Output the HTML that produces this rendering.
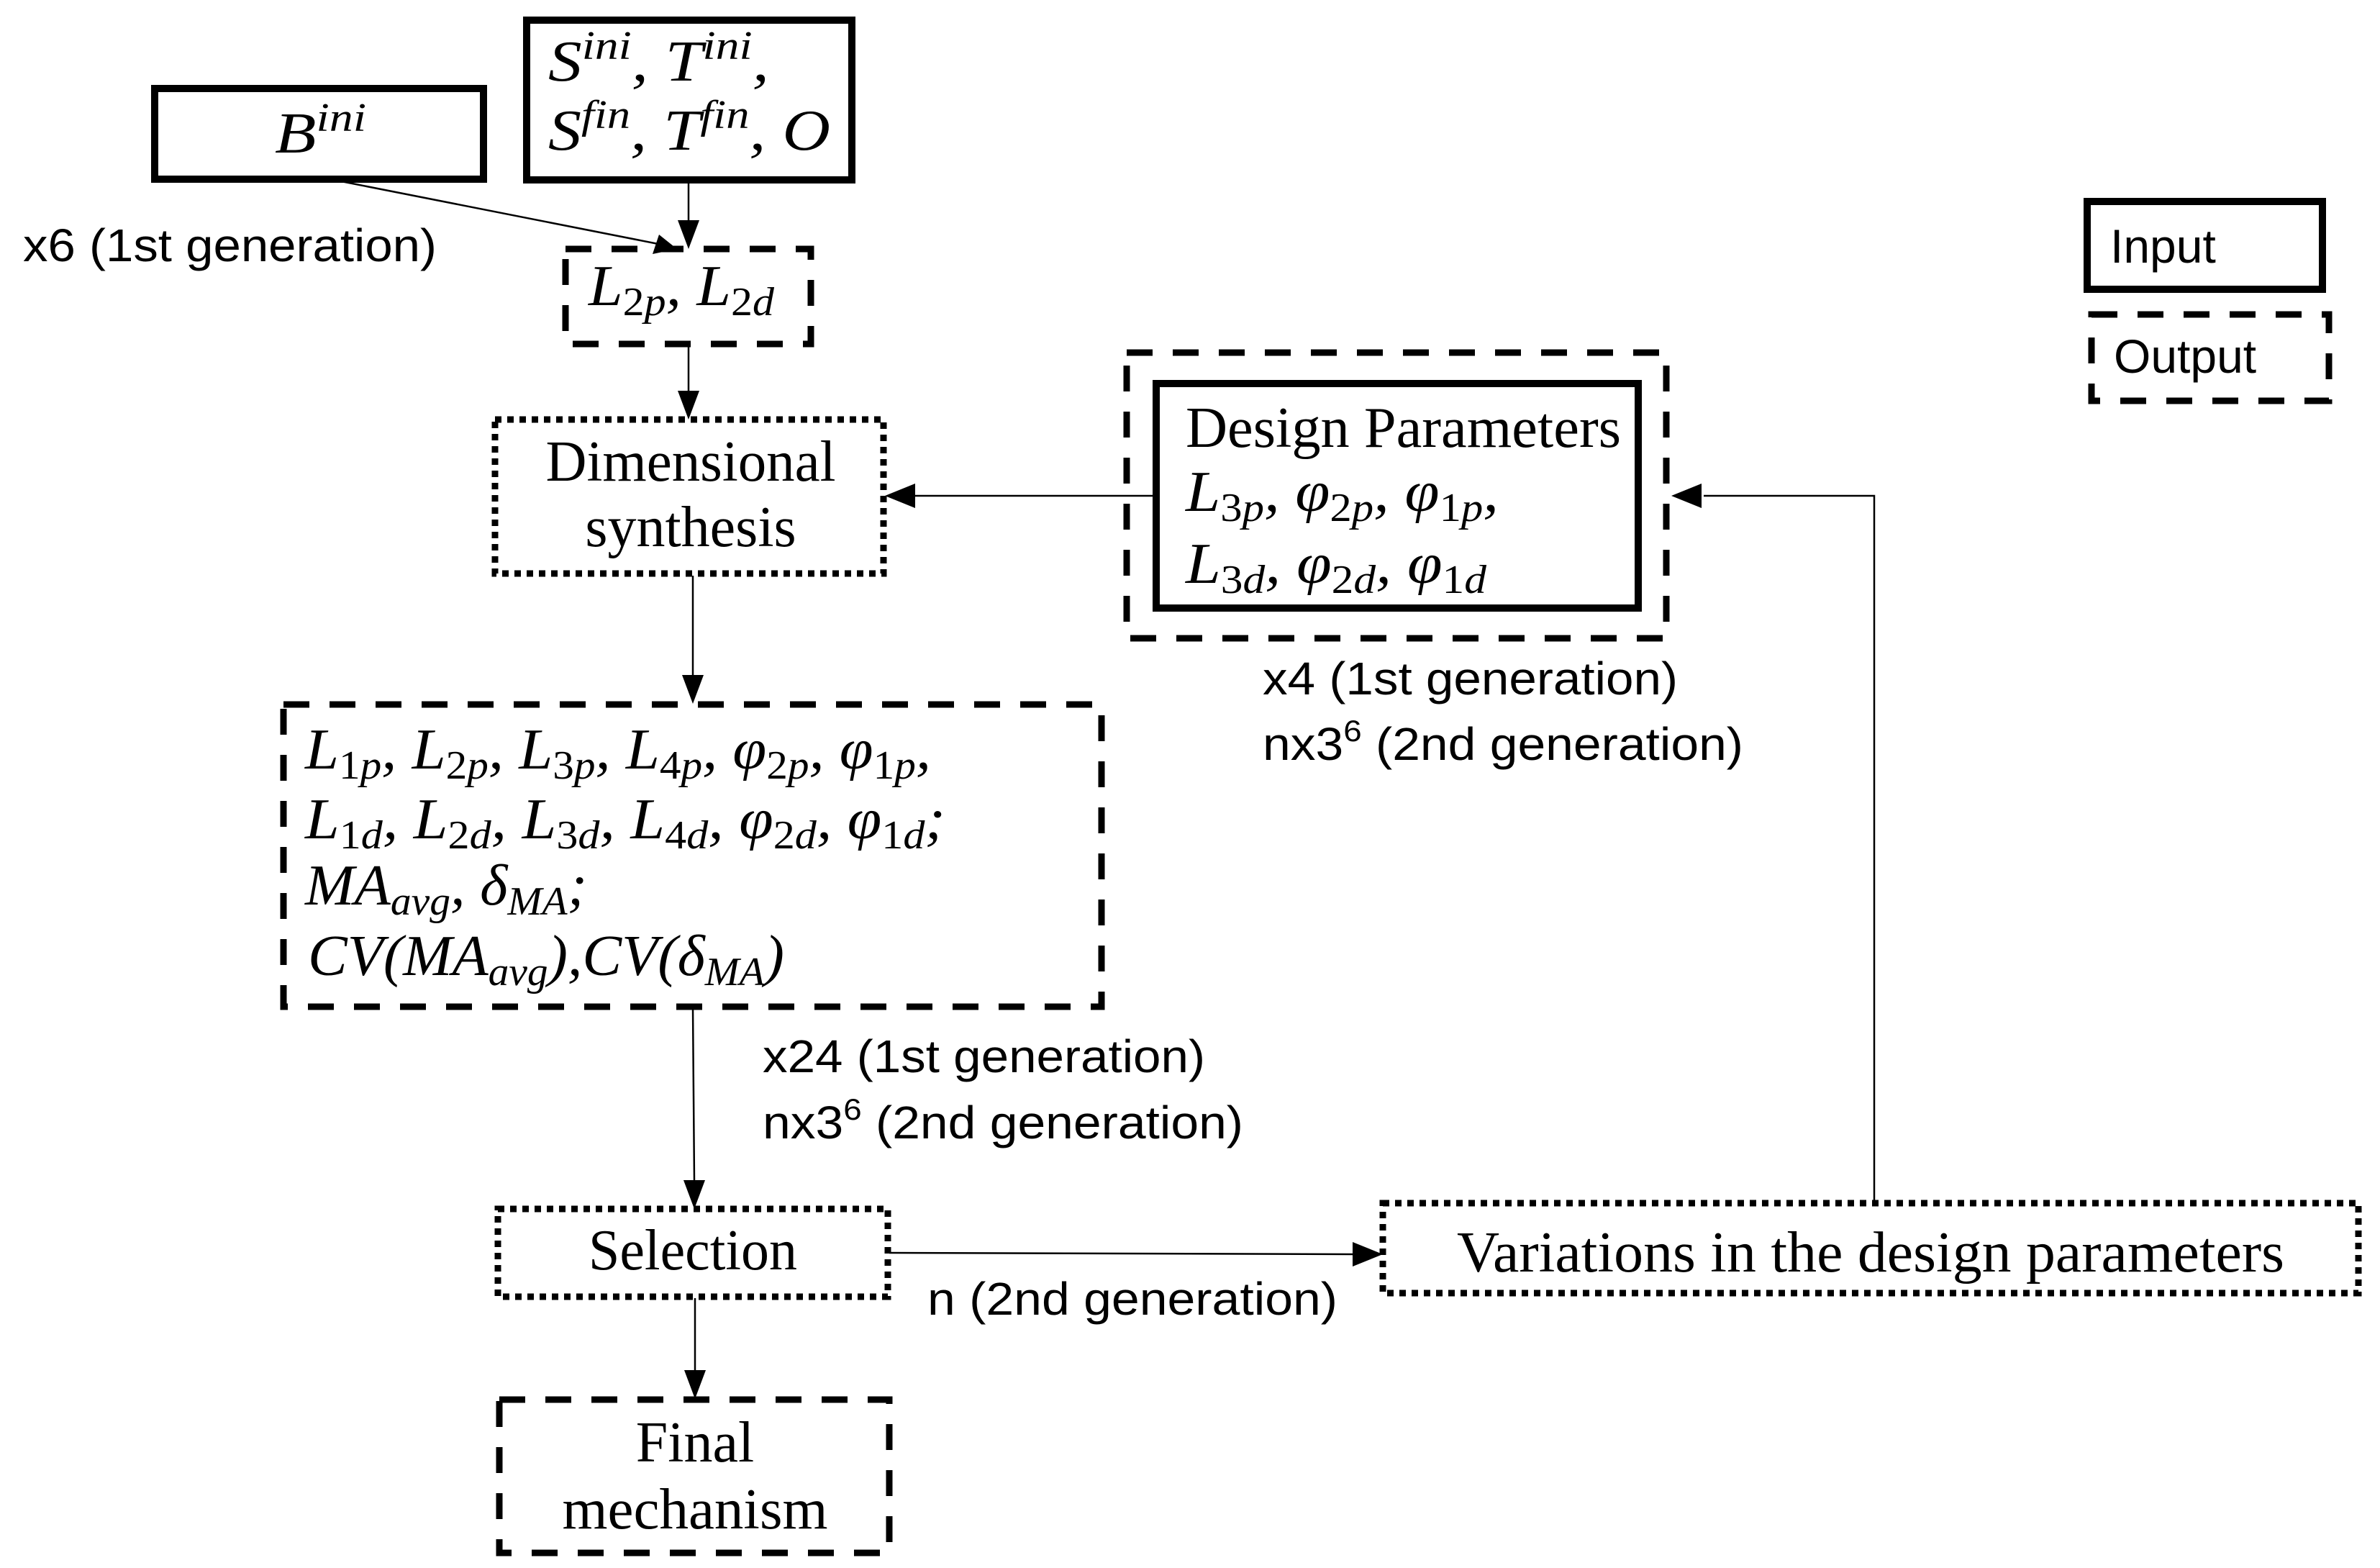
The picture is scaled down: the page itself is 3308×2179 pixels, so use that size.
<!DOCTYPE html>
<html><head><meta charset="utf-8"><style>
html,body{margin:0;padding:0;background:#fff;}
svg{display:block;}
.m{font-family:"Liberation Serif",serif;font-style:italic;font-size:80px;}
.s{font-family:"Liberation Serif",serif;font-size:80px;}
.l{font-family:"Liberation Sans",sans-serif;font-size:64px;}
</style></head><body>
<svg width="3308" height="2179" viewBox="0 0 3308 2179" xmlns="http://www.w3.org/2000/svg">
<g fill="none" stroke="#000">
<rect x="215" y="123" width="457" height="126" stroke-width="10"/>
<rect x="732" y="28" width="452" height="222" stroke-width="10"/>
<rect x="1607" y="533" width="670" height="312" stroke-width="10"/>
<rect x="2901" y="280" width="327" height="122" stroke-width="10"/>
<rect x="786" y="346" width="341" height="132" stroke-width="9" stroke-dasharray="36,28"/>
<rect x="394" y="979" width="1137" height="420" stroke-width="9" stroke-dasharray="36,28"/>
<rect x="1566" y="490" width="750" height="397" stroke-width="9" stroke-dasharray="36,28"/>
<rect x="694" y="1945" width="542" height="213" stroke-width="9" stroke-dasharray="36,28"/>
<rect x="2907" y="437" width="330" height="120" stroke-width="9" stroke-dasharray="36,28"/>
<rect x="688" y="583" width="540" height="214" stroke-width="9" stroke-dasharray="9,8"/>
<rect x="692" y="1680" width="542" height="122" stroke-width="9" stroke-dasharray="9,8"/>
<rect x="1922" y="1672" width="1356" height="125" stroke-width="9" stroke-dasharray="9,8"/>
<g stroke-width="2.5">
<line x1="464" y1="250" x2="920" y2="340"/>
<line x1="957" y1="252" x2="957" y2="310"/>
<line x1="957" y1="480" x2="957" y2="545"/>
<line x1="1607" y1="689" x2="1268" y2="689"/>
<line x1="963" y1="800" x2="963" y2="940"/>
<line x1="963" y1="1400" x2="965" y2="1642"/>
<line x1="1236" y1="1741" x2="1880" y2="1743"/>
<line x1="966" y1="1804" x2="966" y2="1905"/>
<polyline points="2605,1670 2605,689 2368,689"/>
</g>
</g>
<g fill="#000">
<polygon points="941,346 916,326 907,353"/>
<polygon points="957,346 942,306 972,306"/>
<polygon points="957,583 942,543 972,543"/>
<polygon points="1230,689 1272,672 1272,706"/>
<polygon points="963,978 948,938 978,938"/>
<polygon points="965,1680 950,1640 980,1640"/>
<polygon points="1922,1743 1880,1726 1880,1760"/>
<polygon points="966,1944 951,1904 981,1904"/>
<polygon points="2323,689 2365,672 2365,706"/>
</g>
<g class="m" lengthAdjust="spacingAndGlyphs">
<text x="382" y="212" textLength="127" lengthAdjust="spacingAndGlyphs">B<tspan font-size="56" dy="-30">ini</tspan></text>
<text x="762" y="112" textLength="307" lengthAdjust="spacingAndGlyphs">S<tspan font-size="56" dy="-30">ini</tspan><tspan dy="30">, T</tspan><tspan font-size="56" dy="-30">ini</tspan><tspan dy="30">,</tspan></text>
<text x="762" y="208" textLength="392" lengthAdjust="spacingAndGlyphs">S<tspan font-size="56" dy="-30">fin</tspan><tspan dy="30">, T</tspan><tspan font-size="56" dy="-30">fin</tspan><tspan dy="30">, O</tspan></text>
<text x="818" y="424" textLength="258" lengthAdjust="spacingAndGlyphs">L<tspan font-size="56" dy="14" font-style="normal">2</tspan><tspan font-size="56">p</tspan><tspan dy="-14">, L</tspan><tspan font-size="56" dy="14" font-style="normal">2</tspan><tspan font-size="56">d</tspan></text>
<text x="1648" y="710" textLength="435" lengthAdjust="spacingAndGlyphs">L<tspan font-size="56" dy="14" font-style="normal">3</tspan><tspan font-size="56">p</tspan><tspan dy="-14">, φ</tspan><tspan font-size="56" dy="14" font-style="normal">2</tspan><tspan font-size="56">p</tspan><tspan dy="-14">, φ</tspan><tspan font-size="56" dy="14" font-style="normal">1</tspan><tspan font-size="56">p</tspan><tspan dy="-14">,</tspan></text>
<text x="1648" y="810" textLength="418" lengthAdjust="spacingAndGlyphs">L<tspan font-size="56" dy="14" font-style="normal">3</tspan><tspan font-size="56">d</tspan><tspan dy="-14">, φ</tspan><tspan font-size="56" dy="14" font-style="normal">2</tspan><tspan font-size="56">d</tspan><tspan dy="-14">, φ</tspan><tspan font-size="56" dy="14" font-style="normal">1</tspan><tspan font-size="56">d</tspan></text>
<text x="424" y="1068" textLength="870" lengthAdjust="spacingAndGlyphs">L<tspan font-size="56" dy="14" font-style="normal">1</tspan><tspan font-size="56">p</tspan><tspan dy="-14">, L</tspan><tspan font-size="56" dy="14" font-style="normal">2</tspan><tspan font-size="56">p</tspan><tspan dy="-14">, L</tspan><tspan font-size="56" dy="14" font-style="normal">3</tspan><tspan font-size="56">p</tspan><tspan dy="-14">, L</tspan><tspan font-size="56" dy="14" font-style="normal">4</tspan><tspan font-size="56">p</tspan><tspan dy="-14">, φ</tspan><tspan font-size="56" dy="14" font-style="normal">2</tspan><tspan font-size="56">p</tspan><tspan dy="-14">, φ</tspan><tspan font-size="56" dy="14" font-style="normal">1</tspan><tspan font-size="56">p</tspan><tspan dy="-14">,</tspan></text>
<text x="424" y="1165" textLength="890" lengthAdjust="spacingAndGlyphs">L<tspan font-size="56" dy="14" font-style="normal">1</tspan><tspan font-size="56">d</tspan><tspan dy="-14">, L</tspan><tspan font-size="56" dy="14" font-style="normal">2</tspan><tspan font-size="56">d</tspan><tspan dy="-14">, L</tspan><tspan font-size="56" dy="14" font-style="normal">3</tspan><tspan font-size="56">d</tspan><tspan dy="-14">, L</tspan><tspan font-size="56" dy="14" font-style="normal">4</tspan><tspan font-size="56">d</tspan><tspan dy="-14">, φ</tspan><tspan font-size="56" dy="14" font-style="normal">2</tspan><tspan font-size="56">d</tspan><tspan dy="-14">, φ</tspan><tspan font-size="56" dy="14" font-style="normal">1</tspan><tspan font-size="56">d</tspan><tspan dy="-14">;</tspan></text>
<text x="424" y="1257" textLength="392" lengthAdjust="spacingAndGlyphs">MA<tspan font-size="56" dy="14">avg</tspan><tspan dy="-14">, δ</tspan><tspan font-size="56" dy="14">MA</tspan><tspan dy="-14">;</tspan></text>
<text x="428" y="1355" textLength="662" lengthAdjust="spacingAndGlyphs">CV(MA<tspan font-size="56" dy="14">avg</tspan><tspan dy="-14">),CV(δ</tspan><tspan font-size="56" dy="14">MA</tspan><tspan dy="-14">)</tspan></text>
</g>
<g class="s" text-anchor="middle">
<text x="960" y="668" textLength="403" lengthAdjust="spacingAndGlyphs">Dimensional</text>
<text x="960" y="759">synthesis</text>
<text x="963" y="1764" textLength="290" lengthAdjust="spacingAndGlyphs">Selection</text>
<text x="2600" y="1767" textLength="1150" lengthAdjust="spacingAndGlyphs">Variations in the design parameters</text>
<text x="966" y="2031">Final</text>
<text x="966" y="2124" textLength="369" lengthAdjust="spacingAndGlyphs">mechanism</text>
</g>
<text class="s" x="1648" y="621" textLength="605" lengthAdjust="spacingAndGlyphs">Design Parameters</text>
<g class="l">
<text x="32" y="363" textLength="575" lengthAdjust="spacingAndGlyphs">x6 (1st generation)</text>
<text x="1755" y="965" textLength="577" lengthAdjust="spacingAndGlyphs">x4 (1st generation)</text>
<text x="1755" y="1056" textLength="668" lengthAdjust="spacingAndGlyphs">nx3<tspan font-size="42" dy="-26">6</tspan><tspan dy="26"> (2nd generation)</tspan></text>
<text x="1060" y="1490" textLength="615" lengthAdjust="spacingAndGlyphs">x24 (1st generation)</text>
<text x="1060" y="1582" textLength="668" lengthAdjust="spacingAndGlyphs">nx3<tspan font-size="42" dy="-26">6</tspan><tspan dy="26"> (2nd generation)</tspan></text>
<text x="1289" y="1827" textLength="570" lengthAdjust="spacingAndGlyphs">n (2nd generation)</text>
<text x="2933" y="365" font-size="66">Input</text>
<text x="2938" y="518" font-size="66">Output</text>
</g>
</svg>
</body></html>
